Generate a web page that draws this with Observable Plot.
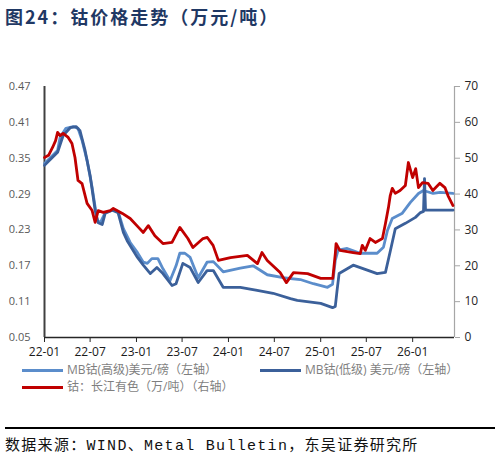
<!DOCTYPE html>
<html><head><meta charset="utf-8">
<script src="https://cdn.jsdelivr.net/npm/d3@7"></script>
<script src="https://cdn.jsdelivr.net/npm/@observablehq/plot@0.6"></script>
<style>
body{margin:0;background:#fff;}
#wrap{position:relative;width:500px;height:468px;overflow:hidden;font-family:'Open Sans','Noto Sans CJK SC',sans-serif;}
#title{position:absolute;left:5px;top:4px;font-family:'Noto Sans CJK SC',sans-serif;font-weight:bold;font-size:18px;letter-spacing:2px;line-height:24px;color:#1F3864;white-space:nowrap;}
#chart{position:absolute;left:0;top:40px;}
.leg{position:absolute;font-size:12px;color:#7f7f7f;white-space:nowrap;line-height:16px;font-family:'Open Sans','Noto Sans CJK SC',sans-serif;}
.sw{position:absolute;width:41px;height:3px;}
#rule{position:absolute;left:5px;top:427px;width:490px;height:2px;background:#000;}
#cap{position:absolute;left:5px;top:437px;font-size:15px;letter-spacing:1.3px;line-height:20px;color:#111;white-space:nowrap;font-family:'Liberation Mono','Noto Sans CJK SC',monospace;}
</style></head>
<body><div id="wrap">
<div id="title">图24：钴价格走势（万元/吨）</div>
<div id="chart"></div>
<div id="legend"></div>
<div id="rule"></div>
<div id="cap">数据来源：WIND、Metal Bulletin，东吴证券研究所</div>
</div>
<script>
// ---- data ----
const seriesNames = ["MB钴(高级)美元/磅（左轴）", "MB钴(低级) 美元/磅（左轴）", "钴：长江有色（万/吨）（右轴）"];
const seriesColors = ["#5B8DCB", "#3B609A", "#C00000"];

const highDates = ["2022-01-01","2022-02-22","2022-03-04","2022-03-27","2022-04-25","2022-05-14","2022-05-30","2022-06-19","2022-07-09","2022-07-29","2022-08-10","2022-08-30","2022-09-27","2022-10-20","2022-11-10","2022-12-07","2023-01-05","2023-01-28","2023-02-13","2023-03-03","2023-03-27","2023-04-16","2023-05-14","2023-06-07","2023-06-22","2023-07-12","2023-08-02","2023-09-03","2023-10-08","2023-11-02","2023-12-11","2024-02-17","2024-04-08","2024-06-03","2024-08-05","2024-10-12","2024-12-03","2025-01-28","2025-02-17","2025-02-28","2025-03-11","2025-04-16","2025-06-07","2025-08-13","2025-09-07","2025-09-23","2025-10-12","2025-11-21","2025-12-23","2026-01-24","2026-02-13","2026-03-23","2026-04-20","2026-06-10"];
const highValues = [0.341,0.363,0.385,0.400,0.403,0.400,0.380,0.346,0.301,0.246,0.242,0.259,0.263,0.261,0.232,0.209,0.192,0.176,0.174,0.182,0.182,0.165,0.145,0.170,0.191,0.191,0.184,0.150,0.176,0.177,0.160,0.166,0.170,0.155,0.150,0.147,0.140,0.134,0.139,0.179,0.196,0.199,0.191,0.191,0.201,0.229,0.249,0.258,0.276,0.291,0.296,0.291,0.293,0.291];

const lowDates = ["2022-01-01","2022-02-22","2022-03-16","2022-04-13","2022-05-06","2022-05-22","2022-06-11","2022-07-01","2022-07-21","2022-08-02","2022-08-18","2022-08-30","2022-09-27","2022-10-20","2022-11-10","2022-11-25","2023-01-05","2023-01-28","2023-02-25","2023-03-23","2023-04-16","2023-05-22","2023-06-07","2023-07-04","2023-08-02","2023-09-03","2023-10-08","2023-11-02","2023-12-11","2024-02-17","2024-04-24","2024-06-26","2024-09-03","2024-09-30","2025-01-01","2025-02-17","2025-02-28","2025-03-07","2025-03-15","2025-05-10","2025-08-13","2025-09-15","2025-10-05","2025-10-24","2025-12-03","2026-01-12","2026-02-01","2026-02-13","2026-02-17","2026-02-21","2026-04-08","2026-06-10"];
const lowValues = [0.338,0.360,0.388,0.401,0.403,0.396,0.363,0.321,0.263,0.242,0.239,0.258,0.263,0.259,0.226,0.212,0.184,0.171,0.157,0.167,0.157,0.137,0.140,0.174,0.167,0.142,0.162,0.162,0.134,0.134,0.129,0.124,0.115,0.112,0.107,0.100,0.102,0.129,0.157,0.171,0.157,0.159,0.196,0.232,0.241,0.251,0.259,0.261,0.316,0.263,0.263,0.263];

const cjDates = ["2022-01-01","2022-01-17","2022-02-02","2022-02-14","2022-02-22","2022-03-04","2022-03-16","2022-04-05","2022-04-20","2022-05-02","2022-05-14","2022-05-30","2022-06-19","2022-07-09","2022-07-21","2022-08-02","2022-08-22","2022-09-19","2022-10-01","2022-11-06","2022-12-07","2023-01-09","2023-01-28","2023-02-17","2023-03-15","2023-04-16","2023-05-22","2023-06-22","2023-07-24","2023-08-13","2023-09-22","2023-10-09","2023-11-01","2023-11-22","2024-01-09","2024-03-16","2024-04-25","2024-05-13","2024-06-03","2024-07-24","2024-08-18","2024-09-15","2024-11-10","2025-01-01","2025-02-18","2025-02-28","2025-03-03","2025-03-18","2025-05-10","2025-06-07","2025-06-15","2025-06-27","2025-07-16","2025-08-06","2025-09-03","2025-09-15","2025-09-27","2025-10-04","2025-10-12","2025-10-24","2025-11-12","2025-12-03","2025-12-15","2026-01-01","2026-01-13","2026-01-24","2026-02-09","2026-03-03","2026-03-22","2026-04-19","2026-05-09","2026-05-21","2026-06-10"];
const cjValues = [50.2,50.8,53.0,54.9,57.2,56.3,56.9,55.8,54.1,50.2,43.8,42.9,37.4,35.4,32.1,35.4,34.9,35.4,36.0,34.6,33.2,30.7,29.3,31.2,28.4,26.2,26.5,30.7,27.6,25.1,27.6,27.9,25.7,21.5,22.3,22.9,20.6,23.7,21.5,18.1,15.3,18.1,17.8,16.5,16.5,23.4,26.2,24.3,23.7,23.4,25.7,24.3,27.6,26.5,27.6,31.8,36.3,39.6,41.6,40.2,41.0,42.4,48.8,44.6,47.1,41.8,43.2,43.0,41.0,43.0,41.8,39.6,36.8];

const xTickLabels = ["2022-01-01","2022-07-01","2023-01-01","2023-07-01","2024-01-01","2024-07-01","2025-01-01","2025-07-01","2026-01-01"];
const leftTicks = [0.05,0.11,0.17,0.23,0.29,0.35,0.41,0.47];
const rightTicks = [0,10,20,30,40,50,60,70];
const xStart = "2022-01-01", xEnd = "2026-06-16";

// ---- build ----
const P = d3.utcParse("%Y-%m-%d");
const high = highDates.map((d,i)=>({date:P(d), v:highValues[i]}));
const low = lowDates.map((d,i)=>({date:P(d), v:lowValues[i]}));
const cj = cjDates.map((d,i)=>({date:P(d), v:cjValues[i]}));
const yMin = leftTicks[0], yMax = leftTicks[leftTicks.length-1];
const rMax = rightTicks[rightTicks.length-1];
const toLeft = r => yMin + r*(yMax-yMin)/rMax;
const toRight = y => (y-yMin)*rMax/(yMax-yMin);

const chart = Plot.plot({
  width:500, height:322,
  marginTop:46, marginBottom:25, marginLeft:44, marginRight:46,
  style:{fontFamily:"'Open Sans','Noto Sans CJK SC',sans-serif", fontSize:"11px", background:"transparent", overflow:"visible"},
  x:{type:"utc", domain:[P(xStart), P(xEnd)]},
  y:{domain:[yMin, yMax]},
  marks:[
    Plot.axisY(leftTicks, {anchor:"left", tickSize:0, tickPadding:14, tickFormat:d=>d.toFixed(2), fill:"#595959", fontSize:11, label:null}),
    Plot.axisY(rightTicks.map(toLeft), {anchor:"right", tickSize:5, tickPadding:5, tickFormat:d=>String(Math.round(toRight(d))), stroke:"#a6a6a6", fill:"#262626", fontSize:12, label:null}),
    Plot.axisX(xTickLabels.map(P), {tickSize:5, tickPadding:5, tickFormat:d3.utcFormat("%y-%m"), stroke:"#262626", fill:"#1a1a1a", fontSize:12, label:null}),
    Plot.ruleX([P(xEnd)], {stroke:"#a6a6a6", strokeWidth:1.2}),
    Plot.ruleY([yMin], {stroke:"#262626", strokeWidth:1.5}),
    Plot.ruleX([P(xStart)], {stroke:"#404040", strokeWidth:2}),
    Plot.line(high, {x:"date", y:"v", stroke:seriesColors[0], strokeWidth:2.8}),
    Plot.line(low, {x:"date", y:"v", stroke:seriesColors[1], strokeWidth:2.8}),
    Plot.line(cj, {x:"date", y:d=>toLeft(d.v), stroke:seriesColors[2], strokeWidth:2.8})
  ]
});
document.getElementById("chart").appendChild(chart);

// legend
const legPos = [[22,370],[260,370],[22,387]];
const leg = document.getElementById("legend");
seriesNames.forEach((n,i)=>{
  const [lx,ly] = legPos[i];
  const s = document.createElement("div"); s.className="sw";
  s.style.left = lx+"px"; s.style.top = (ly-1.5)+"px"; s.style.background = seriesColors[i];
  leg.appendChild(s);
  const t = document.createElement("div"); t.className="leg";
  t.style.left = (lx+45)+"px"; t.style.top = (ly-8)+"px"; t.textContent = n;
  leg.appendChild(t);
});
</script>
</body></html>
